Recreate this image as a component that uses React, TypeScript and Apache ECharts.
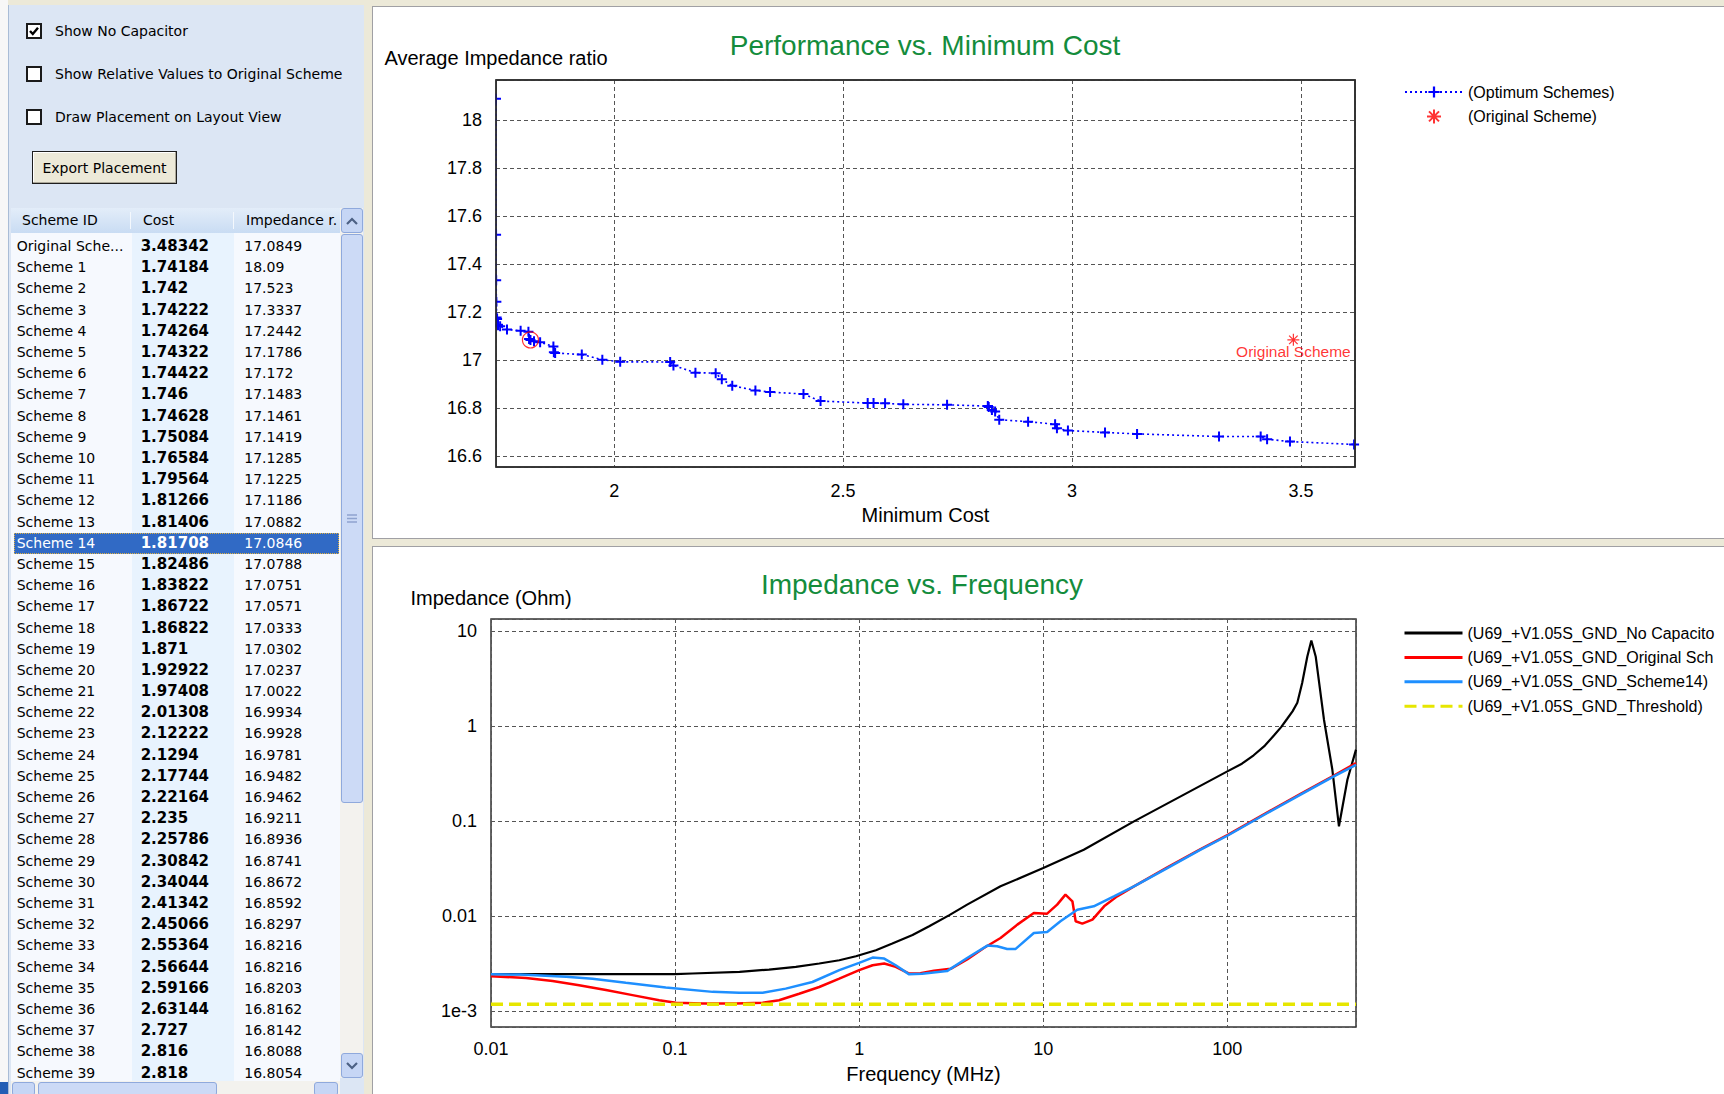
import React, { useEffect, useRef } from "react";
import * as echarts from "echarts";

// ---------------- Performance vs. Minimum Cost ----------------
const optimumCost = [
  1.74184, 1.742, 1.74222, 1.74264, 1.74322, 1.74422, 1.746, 1.74628, 1.75084, 1.76584,
  1.79564, 1.81266, 1.81406, 1.81708, 1.82486, 1.83822, 1.86722, 1.86822, 1.871, 1.92922,
  1.97408, 2.01308, 2.12222, 2.1294, 2.17744, 2.22164, 2.235, 2.25786, 2.30842, 2.34044,
  2.41342, 2.45066, 2.55364, 2.56644, 2.59166, 2.63144, 2.727, 2.816, 2.818,
  2.825, 2.832, 2.841, 2.904, 2.963, 2.967, 2.991, 3.072, 3.142, 3.321, 3.412, 3.426, 3.476, 3.616,
];
const optimumImpedance = [
  18.09, 17.523, 17.3337, 17.2442, 17.1786, 17.172, 17.1483, 17.1461, 17.1419, 17.1285,
  17.1225, 17.1186, 17.0882, 17.0846, 17.0788, 17.0751, 17.0571, 17.0333, 17.0302, 17.0237,
  17.0022, 16.9934, 16.9928, 16.9781, 16.9482, 16.9462, 16.9211, 16.8936, 16.8741, 16.8672,
  16.8592, 16.8297, 16.8216, 16.8216, 16.8203, 16.8162, 16.8142, 16.8088, 16.8054,
  16.793, 16.786, 16.752, 16.744, 16.733, 16.716, 16.707, 16.699, 16.693, 16.682, 16.682, 16.671, 16.661, 16.649,
];
const originalCost = 3.48342;
const originalImpedance = 17.0849;
const selectedSchemeIndex = 13; // Scheme 14
const costRange = [1.74184, 3.618];
const ratioRange = [16.555, 18.168];

// ---------------- Impedance vs. Frequency ----------------
const noCapFreq = [
  0.01, 0.0316, 0.1, 0.124, 0.224, 0.324, 0.453, 0.607, 0.78, 0.96, 1.233, 1.514, 1.95, 2.4,
  3.09, 3.86, 5.86, 10, 16.6, 31.1, 58.1, 100, 120, 139, 160, 179, 196, 211, 226, 240, 255,
  272, 286, 302, 335, 372, 404, 449, 500,
];
const noCapZ = [
  0.00244, 0.00244, 0.00244, 0.00248, 0.00258, 0.00273, 0.00291, 0.00316, 0.00342, 0.00377,
  0.00436, 0.00512, 0.0063, 0.0078, 0.0102, 0.01315, 0.0205, 0.0319, 0.0498, 0.0989, 0.189,
  0.332, 0.4, 0.49, 0.62, 0.79, 0.97, 1.18, 1.42, 1.75, 2.82, 5.37, 7.91, 5.37, 1.16, 0.345,
  0.0877, 0.271, 0.562,
];
const originalFreq = [
  0.01, 0.0155, 0.0216, 0.0301, 0.0421, 0.0587, 0.082, 0.101, 0.141, 0.214, 0.299, 0.367,
  0.472, 0.607, 0.78, 1.0, 1.183, 1.368, 1.58, 1.87, 2.15, 2.55, 3.14, 3.86, 4.76, 5.86,
  7.23, 8.89, 10.5, 11.9, 13.2, 14.4, 15.0, 16.3, 18.5, 21.4, 25.2, 31.1, 47.2, 71.6, 100,
  165, 250, 379, 500,
];
const originalZ = [
  0.00232, 0.00223, 0.00207, 0.00187, 0.00166, 0.00147, 0.0013, 0.00122, 0.0012, 0.0012,
  0.00122, 0.0013, 0.00152, 0.00179, 0.00219, 0.00269, 0.00303, 0.00316, 0.00291, 0.00248,
  0.0025, 0.00266, 0.00278, 0.00348, 0.0046, 0.00586, 0.00811, 0.01074, 0.01057, 0.01315,
  0.01675, 0.01426, 0.00879, 0.0083, 0.00914, 0.01262, 0.01607, 0.0205, 0.0324, 0.0505,
  0.0708, 0.123, 0.192, 0.299, 0.406,
];
const scheme14Freq = [
  0.01, 0.0143, 0.0256, 0.0356, 0.054, 0.089, 0.16, 0.223, 0.299, 0.399, 0.557, 0.78, 1.0,
  1.183, 1.368, 1.58, 1.87, 2.2, 3.0, 3.86, 4.97, 5.62, 6.37, 7.08, 8.89, 10.5, 12.4, 15.3,
  18.8, 24.2, 31.1, 47.2, 71.6, 100, 165, 250, 379, 500,
];
const scheme14Z = [
  0.00244, 0.00242, 0.00229, 0.00219, 0.00198, 0.00177, 0.00159, 0.00156, 0.00156, 0.00172,
  0.00202, 0.00269, 0.00321, 0.00365, 0.00356, 0.00303, 0.00243, 0.00247, 0.00263, 0.00361,
  0.00488, 0.0048, 0.0045, 0.0045, 0.00662, 0.00678, 0.00879, 0.01164, 0.01262, 0.01607,
  0.0205, 0.0319, 0.0498, 0.0698, 0.121, 0.189, 0.294, 0.389,
];
const thresholdFreq = [0.01, 500];
const thresholdZ = [0.00118, 0.00118];
const freqRange = [0.01, 500];
const impRange = [0.000679, 13.3];

const NAME_OPT = "(Optimum Schemes)";
const NAME_ORIG_PT = "(Original Scheme)";
const NAME_NOCAP = "(U69_+V1.05S_GND_No Capacitor)";
const NAME_ORIG = "(U69_+V1.05S_GND_Original Scheme)";
const NAME_S14 = "(U69_+V1.05S_GND_Scheme14)";
const NAME_TH = "(U69_+V1.05S_GND_Threshold)";

const FONT = "'Liberation Sans', Arial, Helvetica, sans-serif";
const UI_FONT = "'DejaVu Sans', Verdana, sans-serif";

const plusSymbol = "path://M4,0H6V4H10V6H6V10H4V6H0V4H4Z";
const starSymbol = "path://M7,0V14M0,7H14M2,2L12,12M2,12L12,2";

const pairs = (xs: number[], ys: number[]) => xs.map((x, i) => [x, ys[i]]);

const gridLine = { show: true, lineStyle: { color: "#555", type: [4, 3] as any, width: 1 } };

function logLabel(v: number) {
  const l = Math.log10(v);
  if (Math.abs(l + 3) < 0.01) return "1e-3";
  if (v >= 1) return String(Math.round(v));
  return String(+v.toPrecision(1));
}

const TOP_GRID = { left: 496, top: 80, width: 859, height: 387 };
const BOTTOM_GRID = { left: 491, top: 619, width: 865, height: 408 };

function buildOption(): any {
  const axisText = { fontSize: 18, color: "#000", fontFamily: FONT };
  const nameText = { fontSize: 20, color: "#000", fontFamily: FONT };
  const legendText = { fontSize: 16, color: "#000", fontFamily: FONT };
  return {
    animation: false,
    backgroundColor: "transparent",
    textStyle: { fontFamily: FONT },
    graphic: [
      {
        type: "text", x: 925, y: 45,
        style: { text: "Performance vs. Minimum Cost", fill: "#148c3c", fontSize: 28, fontFamily: FONT, align: "center", verticalAlign: "middle" },
      },
      {
        type: "text", x: 922, y: 584,
        style: { text: "Impedance vs. Frequency", fill: "#148c3c", fontSize: 28, fontFamily: FONT, align: "center", verticalAlign: "middle" },
      },
      {
        type: "rect", z: 50, silent: true,
        shape: { x: TOP_GRID.left - 12, y: TOP_GRID.top - 2, width: 11.3, height: TOP_GRID.height + 4 },
        style: { fill: "#ffffff" },
      },
      {
        type: "rect", z: 51, silent: true,
        shape: { x: TOP_GRID.left, y: TOP_GRID.top, width: TOP_GRID.width, height: TOP_GRID.height },
        style: { fill: "none", stroke: "#2a2a2a", lineWidth: 1.6 },
      },
    ],
    legend: [
      {
        data: [NAME_OPT, NAME_ORIG_PT], orient: "vertical", left: 1404, top: 84, padding: 0,
        itemWidth: 58, itemHeight: 14, itemGap: 8.4, selectedMode: false,
        textStyle: legendText,
      },
      {
        data: [NAME_NOCAP, NAME_ORIG, NAME_S14, NAME_TH], orient: "vertical", left: 1403, top: 625, padding: 0,
        itemWidth: 58, itemHeight: 14, itemGap: 8.4, selectedMode: false,
        itemStyle: { opacity: 0 },
        lineStyle: { width: 3 },
        textStyle: { ...legendText, width: 250, overflow: "truncate", ellipsis: "" },
      },
    ],
    grid: [
      { ...TOP_GRID, show: true, backgroundColor: "#fff", borderColor: "#333", borderWidth: 1.5, outerBoundsMode: "none", containLabel: false },
      { ...BOTTOM_GRID, show: true, backgroundColor: "#fff", borderColor: "#333", borderWidth: 1.5, outerBoundsMode: "none", containLabel: false },
    ],
    xAxis: [
      {
        type: "value", gridIndex: 0, min: costRange[0], max: costRange[1], splitNumber: 4,
        name: "Minimum Cost", nameLocation: "middle", nameGap: 38, nameTextStyle: nameText,
        axisLine: { show: false }, axisTick: { show: false },
        axisLabel: { ...axisText, margin: 15, showMinLabel: false, showMaxLabel: false },
        splitLine: gridLine,
      },
      {
        type: "log", logBase: 10, gridIndex: 1, min: freqRange[0], max: freqRange[1],
        name: "Frequency (MHz)", nameLocation: "middle", nameGap: 37, nameTextStyle: nameText,
        axisLine: { show: false }, axisTick: { show: false }, minorTick: { show: false },
        axisLabel: { ...axisText, margin: 13, showMinLabel: true, showMaxLabel: false, formatter: logLabel },
        splitLine: gridLine,
      },
    ],
    yAxis: [
      {
        type: "value", gridIndex: 0, min: ratioRange[0], max: ratioRange[1], splitNumber: 8,
        name: "Average Impedance ratio", nameLocation: "end", nameGap: 12, nameTextStyle: nameText,
        axisLine: { show: false }, axisTick: { show: false },
        axisLabel: { ...axisText, margin: 14, showMinLabel: false, showMaxLabel: false },
        splitLine: gridLine,
      },
      {
        type: "log", logBase: 10, gridIndex: 1, min: impRange[0], max: impRange[1],
        name: "Impedance (Ohm)", nameLocation: "end", nameGap: 11, nameTextStyle: nameText,
        axisLine: { show: false }, axisTick: { show: false }, minorTick: { show: false },
        axisLabel: { ...axisText, margin: 14, showMinLabel: false, showMaxLabel: false, formatter: logLabel },
        splitLine: gridLine,
      },
    ],
    series: [
      {
        name: NAME_OPT, type: "line", xAxisIndex: 0, yAxisIndex: 0,
        data: pairs(optimumCost, optimumImpedance),
        symbol: plusSymbol, symbolSize: 10, showSymbol: true, showAllSymbol: true,
        lineStyle: { color: "#0000ff", width: 1.6, type: [2, 3] },
        itemStyle: { color: "#0000ff" },
        z: 3,
      },
      {
        name: NAME_ORIG_PT, type: "scatter", xAxisIndex: 0, yAxisIndex: 0,
        data: [[originalCost, originalImpedance]],
        symbol: starSymbol, symbolSize: 12,
        itemStyle: { color: "rgba(0,0,0,0)", borderColor: "#ff0000", borderWidth: 1.2 },
        label: { show: true, formatter: "Original Scheme", position: "inside", offset: [0, 12], color: "#ff0000", fontSize: 15.5, fontFamily: FONT },
        z: 4,
      },
      {
        name: "Selected Scheme", type: "scatter", xAxisIndex: 0, yAxisIndex: 0,
        data: [[optimumCost[selectedSchemeIndex], optimumImpedance[selectedSchemeIndex]]],
        symbol: "circle", symbolSize: 16,
        itemStyle: { color: "rgba(0,0,0,0)", borderColor: "#ff0000", borderWidth: 1.2 },
        z: 5,
      },
      {
        name: NAME_NOCAP, type: "line", xAxisIndex: 1, yAxisIndex: 1, data: pairs(noCapFreq, noCapZ),
        symbol: "none", lineStyle: { color: "#000000", width: 2.2 }, itemStyle: { color: "#000000" },
      },
      {
        name: NAME_ORIG, type: "line", xAxisIndex: 1, yAxisIndex: 1, data: pairs(originalFreq, originalZ),
        symbol: "none", lineStyle: { color: "#ff0000", width: 2.5 }, itemStyle: { color: "#ff0000" },
      },
      {
        name: NAME_S14, type: "line", xAxisIndex: 1, yAxisIndex: 1, data: pairs(scheme14Freq, scheme14Z),
        symbol: "none", lineStyle: { color: "#1e8fff", width: 2.5 }, itemStyle: { color: "#1e8fff" },
      },
      {
        name: NAME_TH, type: "line", xAxisIndex: 1, yAxisIndex: 1, data: pairs(thresholdFreq, thresholdZ),
        symbol: "none", lineStyle: { color: "#e6e600", width: 3.5, type: [12, 6] }, itemStyle: { color: "#e6e600" },
      },
    ],
  };
}

function Charts() {
  const ref = useRef<HTMLDivElement>(null);
  useEffect(() => {
    const chart = echarts.init(ref.current!, null, { renderer: "svg" });
    chart.setOption(buildOption());
    return () => chart.dispose();
  }, []);
  return <div ref={ref} style={{ position: "absolute", left: 0, top: 0, width: 1724, height: 1094 }} />;
}

// ---------------- Left panel (table) ----------------
const tableRows = [
  { id: "Original Sche...", cost: originalCost, imp: originalImpedance },
  ...optimumCost.slice(0, 39).map((c, i) => ({ id: `Scheme ${i + 1}`, cost: c, imp: optimumImpedance[i] })),
];

function CheckBox({ top, label, checked }: { top: number; label: string; checked: boolean }) {
  return (
    <div style={{ position: "absolute", left: 26, top, height: 17, display: "flex", alignItems: "center" }}>
      <div style={{ width: 12, height: 12, border: "2px solid #1a1a1a", background: "#fff", position: "relative" }}>
        {checked && (
          <svg width="12" height="12" style={{ position: "absolute", left: 0, top: 0 }}>
            <polyline points="2,6 4.8,9 10,2.8" fill="none" stroke="#000" strokeWidth="2.4" />
          </svg>
        )}
      </div>
      <span style={{ marginLeft: 13, fontSize: 14, fontFamily: UI_FONT, color: "#000", whiteSpace: "nowrap" }}>{label}</span>
    </div>
  );
}

function Chevron({ up }: { up: boolean }) {
  return (
    <svg width="12" height="8" style={{ display: "block" }}>
      <polyline points={up ? "1,7 6,2 11,7" : "1,1 6,6 11,1"} fill="none" stroke="#4d6185" strokeWidth="2.2" />
    </svg>
  );
}

const sbBtn: React.CSSProperties = {
  position: "absolute", background: "#c6d6f5", border: "1px solid #8fa9dc", borderRadius: 3,
  boxSizing: "border-box", display: "flex", alignItems: "center", justifyContent: "center",
};

function LeftPanel() {
  const rowH = 21.19;
  return (
    <>
      <div style={{ position: "absolute", left: 0, top: 0, width: 8, height: 1094, background: "#f7f7f7" }} />
      <div style={{ position: "absolute", left: 8, top: 5, width: 356, height: 1089, background: "#dce6f4", borderLeft: "1px solid #a9bcd6", boxSizing: "border-box" }} />
      <CheckBox top={22} label="Show No Capacitor" checked={true} />
      <CheckBox top={65} label="Show Relative Values to Original Scheme" checked={false} />
      <CheckBox top={108} label="Draw Placement on Layout View" checked={false} />
      <div style={{ position: "absolute", left: 32, top: 151, width: 145, height: 33, boxSizing: "border-box", background: "#ece9d8", border: "1px solid #1e1e1e", boxShadow: "inset -1px -1px 0 #aca899, inset 1px 1px 0 #fff", display: "flex", alignItems: "center", justifyContent: "center", fontFamily: UI_FONT, fontSize: 14, color: "#000" }}>
        Export Placement
      </div>

      {/* header */}
      <div style={{ position: "absolute", left: 11, top: 208, width: 329, height: 25, background: "linear-gradient(#e3edf9, #c9dcf3)", fontFamily: UI_FONT, fontSize: 14, color: "#000" }}>
        <span style={{ position: "absolute", left: 11, top: 4, whiteSpace: "nowrap" }}>Scheme ID</span>
        <div style={{ position: "absolute", left: 119, top: 4, width: 1, height: 17, background: "#f4f8fd" }} />
        <span style={{ position: "absolute", left: 132, top: 4, whiteSpace: "nowrap" }}>Cost</span>
        <div style={{ position: "absolute", left: 222, top: 4, width: 1, height: 17, background: "#f4f8fd" }} />
        <span style={{ position: "absolute", left: 235, top: 4, whiteSpace: "nowrap" }}>Impedance r.</span>
      </div>

      {/* body */}
      <div style={{ position: "absolute", left: 11, top: 233, width: 329, height: 848, background: "#f6f9fe", overflow: "hidden", fontFamily: UI_FONT, fontSize: 14, color: "#000" }}>
        <div style={{ position: "absolute", left: 121, top: 0, width: 102, height: 848, background: "#e8f3fe" }} />
        {tableRows.map((r, i) => {
          const sel = i === selectedSchemeIndex + 1;
          const top = 3.1 + i * rowH;
          return (
            <div key={i} style={{ position: "absolute", left: 0, top, width: 329, height: rowH, lineHeight: `${rowH}px`, color: sel ? "#fff" : "#000" }}>
              {sel && <div style={{ position: "absolute", left: 3, top: 0, width: 325, height: rowH, background: "#316ac5", border: "1px dotted #e0b040", boxSizing: "border-box" }} />}
              <span style={{ position: "absolute", left: 5.7, whiteSpace: "nowrap" }}>{r.id}</span>
              <span style={{ position: "absolute", left: 129.7, fontWeight: "bold", fontSize: 15, whiteSpace: "nowrap" }}>{String(r.cost)}</span>
              <span style={{ position: "absolute", left: 233.3, whiteSpace: "nowrap" }}>{String(r.imp)}</span>
            </div>
          );
        })}
      </div>

      {/* vertical scrollbar */}
      <div style={{ position: "absolute", left: 340, top: 208, width: 23, height: 870, background: "#f3f2ee" }} />
      <div style={{ ...sbBtn, left: 341, top: 208, width: 22, height: 25 }}><Chevron up={true} /></div>
      <div style={{ ...sbBtn, left: 341, top: 234, width: 22, height: 569, background: "#ccdaf6" }}>
        <svg width="12" height="9"><path d="M1,1H11M1,4.5H11M1,8H11" stroke="#8ea3cf" strokeWidth="1.3" /></svg>
      </div>
      <div style={{ ...sbBtn, left: 341, top: 1053, width: 22, height: 25 }}><Chevron up={false} /></div>

      {/* horizontal scrollbar */}
      <div style={{ position: "absolute", left: 11, top: 1081, width: 329, height: 13, background: "#f3f2ee" }} />
      <div style={{ ...sbBtn, left: 12, top: 1082, width: 23, height: 14 }} />
      <div style={{ ...sbBtn, left: 38, top: 1082, width: 179, height: 14, background: "#ccdaf6" }} />
      <div style={{ ...sbBtn, left: 314, top: 1082, width: 24, height: 14 }} />
      <div style={{ position: "absolute", left: 0, top: 1082, width: 8, height: 12, background: "#235eb5" }} />
    </>
  );
}

export default function App() {
  return (
    <div style={{ position: "fixed", left: 0, top: 0, width: 1724, height: 1094, background: "#ece9d8", overflow: "hidden" }}>
      <LeftPanel />
      <div style={{ position: "absolute", left: 372, top: 6, width: 1352, height: 533, background: "#fff", border: "1px solid #a0a0a4", borderRight: "none", boxSizing: "border-box" }} />
      <div style={{ position: "absolute", left: 372, top: 546, width: 1352, height: 548, background: "#fff", border: "1px solid #a0a0a4", borderRight: "none", borderBottom: "none", boxSizing: "border-box" }} />
      <Charts />
    </div>
  );
}
